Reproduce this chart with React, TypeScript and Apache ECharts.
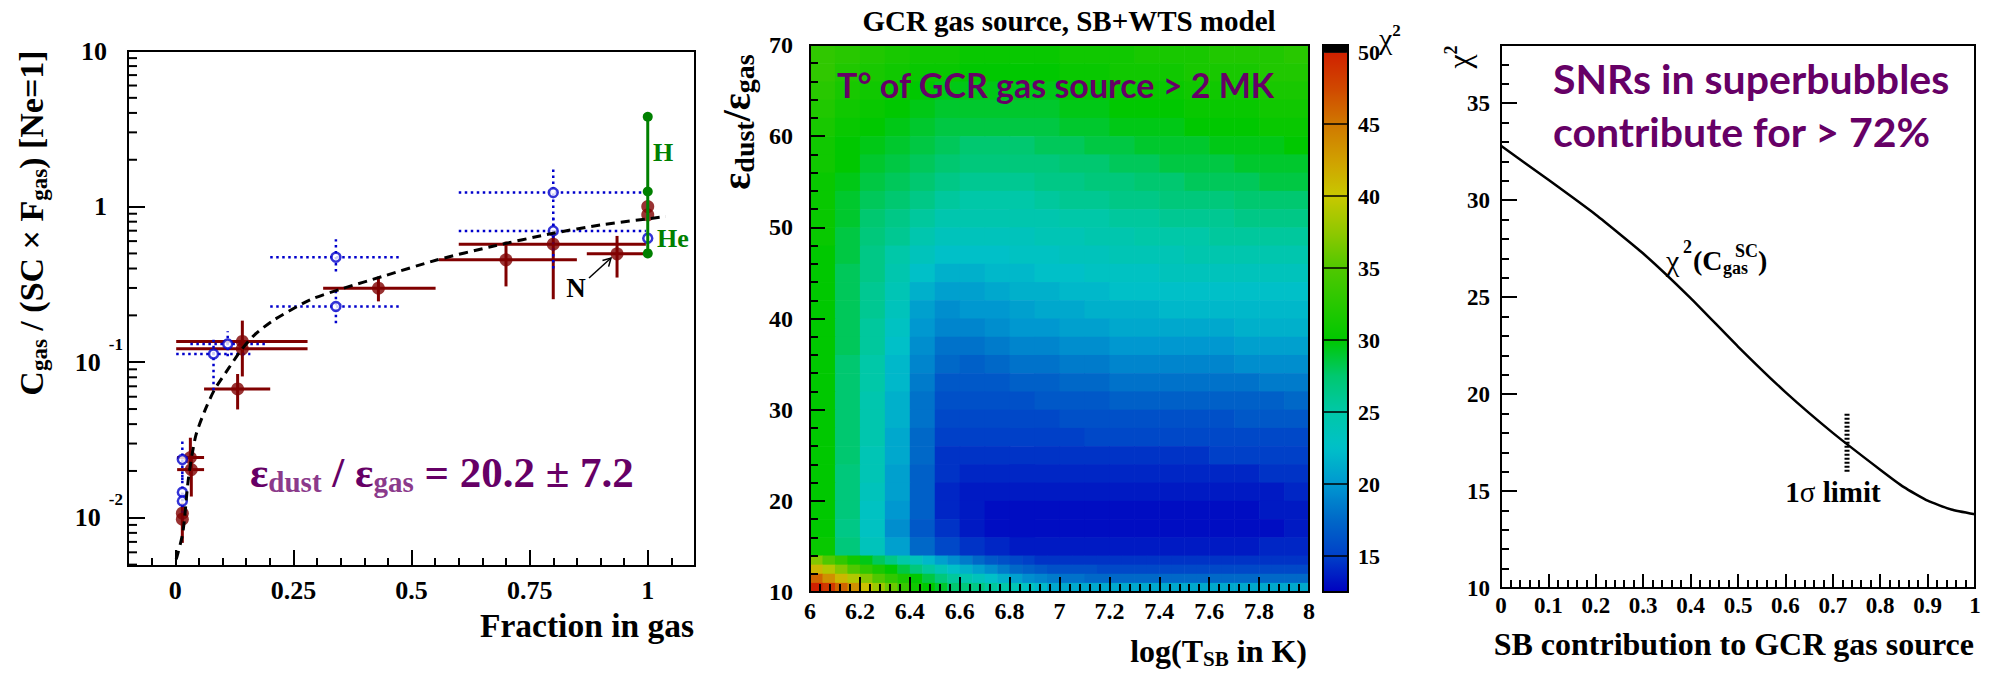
import React, { useEffect, useRef } from 'react';
import * as echarts from 'echarts';

const SERIF = "'Liberation Serif', 'Times New Roman', Times, serif";
const SANS = "Lato, 'Noto Sans', sans-serif";
const PURPLE = '#660066';
const PURPLE_SUB = '#8b3a8b';
const DARKRED = '#800000';
const BLUE = '#0000cc';
const GREEN = '#008000';

// ================= LEFT PANEL DATA =================
const leftXTicks = [0, 0.25, 0.5, 0.75, 1];
const leftYMinorTicks = [0.005, 0.006, 0.007, 0.008, 0.009, 0.02, 0.03, 0.04, 0.05, 0.06, 0.07, 0.08, 0.09,
  0.2, 0.3, 0.4, 0.5, 0.6, 0.7, 0.8, 0.9, 2, 3, 4, 5, 6, 7, 8, 9];

// dust-depleted elements (dark red, filled)
const redX = [0.015, 0.015, 0.032, 0.034, 0.142, 0.142, 0.132, 0.43, 0.70, 0.80, 0.935, 1.0, 1.0];
const redY = [0.0107, 0.0098, 0.0244, 0.0204, 0.136, 0.122, 0.0673, 0.299, 0.455, 0.573, 0.497, 1.0, 0.885];
const redXLo = [0.015, 0.015, 0.004, 0.004, 0.002, 0.002, 0.061, 0.313, 0.558, 0.60, 0.871, 1.0, 1.0];
const redXHi = [0.015, 0.015, 0.061, 0.061, 0.28, 0.28, 0.201, 0.551, 0.85, 0.996, 0.996, 1.0, 1.0];
const redYLo = [0.0069, 0.0098, 0.019, 0.0137, 0.11, 0.081, 0.0497, 0.246, 0.307, 0.254, 0.350, 1.0, 0.885];
const redYHi = [0.0125, 0.0098, 0.0327, 0.026, 0.185, 0.14, 0.084, 0.355, 0.596, 0.708, 0.648, 1.0, 0.885];

// open blue circles, dotted error bars
const blueX = [0.015, 0.015, 0.015, 0.081, 0.111, 0.34, 0.34, 0.80, 0.80, 1.0];
const blueY = [0.0237, 0.0146, 0.0128, 0.113, 0.131, 0.473, 0.228, 1.23, 0.698, 0.626];
const blueXLo = [0.015, 0.015, 0.015, 0.002, 0.032, 0.201, 0.201, 0.60, 0.60, 1.0];
const blueXHi = [0.015, 0.015, 0.015, 0.159, 0.19, 0.479, 0.479, 0.996, 0.996, 1.0];
const blueYLo = [0.0175, 0.0098, 0.0098, 0.066, 0.109, 0.383, 0.178, 0.75, 0.40, 0.626];
const blueYHi = [0.0318, 0.02, 0.016, 0.147, 0.158, 0.617, 0.299, 1.76, 0.85, 0.626];

// H / He (green)
const greenX = [1, 1, 1];
const greenY = [3.78, 1.25, 0.50];

// fitted curve (dashed)
const fitX = [0.002, 0.016, 0.028, 0.043, 0.062, 0.083, 0.111, 0.14, 0.168, 0.209, 0.286, 0.355, 0.439, 0.555, 0.67, 0.80, 0.90, 1.038];
const fitY = [0.0054, 0.0080, 0.018, 0.0333, 0.0483, 0.0665, 0.0895, 0.120, 0.150, 0.187, 0.252, 0.298, 0.356, 0.455, 0.554, 0.674, 0.762, 0.863];

// ================= MIDDLE PANEL DATA (chi2 map) =================
const coarseXEdges = [6.0, 6.1, 6.2, 6.3, 6.4, 6.5, 6.6, 6.7, 6.8, 6.9, 7.0, 7.1, 7.2, 7.3, 7.4, 7.5, 7.6, 7.7, 7.8, 7.9, 8.0];
const coarseYEdges = [70, 68, 66, 64, 62, 60, 58, 56, 54, 52, 50, 48, 46, 44, 42, 40, 38, 36, 34, 32, 30, 28, 26, 24, 22, 20, 18, 16, 14];
const coarseChi2 = [
  [33, 32.5, 32, 31.5, 31, 31, 30.5, 30.5, 30.5, 30.5, 31, 31, 31, 31.5, 31.5, 31.5, 32, 32, 32, 32.5],
  [33, 32, 31.5, 31, 30.5, 30.5, 30, 30, 30, 30, 30.5, 30.5, 31, 31, 31, 31.5, 31.5, 31.5, 32, 32],
  [32.5, 31.5, 31, 30.5, 30, 29.5, 29.5, 29.5, 29.5, 29.5, 30, 30, 30.5, 30.5, 30.5, 31, 31, 31, 31.5, 31.5],
  [32, 31, 30.5, 30, 29.5, 29, 29, 29, 29, 29, 29.5, 29.5, 30, 30, 30, 30.5, 30.5, 30.5, 31, 31],
  [31.5, 30.5, 30, 29.5, 29, 28.5, 28.5, 28.5, 28.5, 28.5, 29, 29, 29.5, 29.5, 29.5, 30, 30, 30, 30.5, 30.5],
  [31, 30, 29.5, 29, 28.5, 28, 27.5, 27.5, 27.5, 28, 28, 28.5, 28.5, 29, 29, 29, 29.5, 29.5, 29.5, 30],
  [31, 30, 29, 28.5, 28, 27.5, 27, 27, 27, 27, 27.5, 27.5, 28, 28, 28.5, 28.5, 28.5, 29, 29, 29],
  [30.5, 29.5, 28.5, 28, 27.5, 26.5, 26, 26, 26, 26.5, 26.5, 27, 27, 27.5, 27.5, 28, 28, 28, 28.5, 28.5],
  [30.5, 29, 28, 27.5, 26.5, 25.5, 25, 25, 25, 25.5, 26, 26, 26.5, 26.5, 27, 27, 27, 27.5, 27.5, 27.5],
  [30.5, 29, 27.5, 26.5, 25.5, 24.5, 24.5, 24.5, 24.5, 24.5, 25, 25, 25.5, 25.5, 26, 26, 26, 26.5, 26.5, 26.5],
  [30.5, 28.5, 27, 26, 24.5, 23.5, 23.5, 23.5, 23.5, 24, 24, 24.5, 24.5, 25, 25, 25, 25.5, 25.5, 25.5, 25.5],
  [30, 28.5, 26.5, 25, 23.5, 22.5, 22.5, 22.5, 23, 23, 23.5, 23.5, 24, 24, 24, 24.5, 24.5, 24.5, 24.5, 24.5],
  [30, 28, 26.5, 24.5, 22.5, 21.5, 21.5, 22, 22, 22.5, 22.5, 23, 23, 23, 23.5, 23.5, 23.5, 23.5, 23.5, 23.5],
  [30, 28, 26, 24, 21.5, 20.5, 20.5, 21, 21.5, 21.5, 22, 22, 22.5, 22.5, 22.5, 22.5, 22.5, 22.5, 22.5, 22.5],
  [30, 28, 26, 23.5, 20.5, 19.5, 20, 20, 20.5, 21, 21, 21.5, 21.5, 21.5, 22, 22, 22, 22, 22, 22],
  [30, 28, 25.5, 23, 20, 19, 19, 19.5, 20, 20, 20.5, 20.5, 21, 21, 21, 21, 21, 21.5, 21.5, 21.5],
  [30, 28, 25.5, 22.5, 19.5, 18, 18, 18.5, 19, 19, 19.5, 19.5, 20, 20, 20, 20, 20, 20.5, 20.5, 20.5],
  [30, 27.5, 25, 22, 19, 17.5, 17, 17.5, 18, 18, 18.5, 18.5, 19, 19, 19, 19, 19, 19.5, 19.5, 19.5],
  [30, 27.5, 25, 22, 18.5, 16.5, 16.5, 16.5, 17, 17, 17.5, 17.5, 18, 18, 18, 18, 18, 18, 18.5, 18.5],
  [30, 27.5, 24.5, 21.5, 18, 16, 16, 16, 16, 16.5, 16.5, 16.5, 17, 17, 17, 17, 17, 17, 17, 17.5],
  [30, 27.5, 24.5, 21.5, 18, 15.5, 15.5, 15.5, 15.5, 15.5, 16, 16, 16, 16, 16, 16, 16, 16.5, 16.5, 16.5],
  [30, 27.5, 24.5, 21, 17.5, 15, 15, 15, 15, 15, 15, 15.5, 15.5, 15.5, 15.5, 15.5, 15.5, 15.5, 15.5, 15.5],
  [30, 27.5, 24, 21, 17.5, 14.5, 14.5, 14.5, 14.5, 14.5, 14.5, 14.5, 14.5, 14.5, 14.5, 14.5, 15, 15, 15, 15],
  [30, 27, 24, 20.5, 17, 14.5, 14, 14, 14, 14, 14, 14, 14, 14, 14, 14, 14, 14, 14.5, 14.5],
  [30, 27, 23.5, 20.5, 17, 14, 13.5, 13.5, 13.5, 13.5, 13.5, 13.5, 13.5, 13.5, 13.5, 13.5, 13.5, 13.5, 13.5, 14],
  [30, 27, 23, 20, 17, 14, 13.5, 13, 13, 13, 13, 13, 13, 13, 13, 13, 13, 13, 13.5, 13.5],
  [30, 26.5, 23, 19.5, 16.5, 14.5, 13.5, 13, 13, 13, 13, 13, 13, 13, 13, 13, 13, 13, 13, 13.5],
  [30.5, 27, 23.5, 20.5, 17.5, 15.5, 14.5, 14, 13.5, 13.5, 13.5, 13.5, 13.5, 13.5, 13.5, 13.5, 13.5, 13.5, 14, 14],
];
const fineXEdges = [6.00, 6.05, 6.10, 6.15, 6.20, 6.25, 6.30, 6.35, 6.40, 6.45, 6.50, 6.55, 6.60, 6.65, 6.70, 6.75, 6.80, 6.85, 6.90, 6.95,
  7.00, 7.05, 7.10, 7.15, 7.20, 7.25, 7.30, 7.35, 7.40, 7.45, 7.50, 7.55, 7.60, 7.65, 7.70, 7.75, 7.80, 7.85, 7.90, 7.95, 8.00];
const fineYEdges = [14, 13, 12, 11, 10];
const fineChi2 = [
  [37, 35, 33, 31, 29.5, 28, 26.5, 25, 23.5, 22, 20.5, 19.5, 18.5, 17.5, 16.5, 16, 15.5, 15, 14.5,
    14.5, 14.5, 14.5, 14.5, 14.5, 14.5, 14.5, 14.5, 14.5, 14.5, 14.5, 14.5, 14.5, 14.5, 14.5, 14.5, 14.5, 14.5, 14.5, 14.5, 14.5],
  [41, 39, 37, 35, 33, 31.5, 30, 28.5, 27, 25.5, 24, 22.5, 21.5, 20.5, 19.5, 18.5, 17.5, 17, 16.5,
    16, 16, 16, 16, 15.5, 15.5, 15.5, 15.5, 15.5, 15.5, 15.5, 15.5, 15.5, 15.5, 15.5, 15.5, 15.5, 15.5, 15.5, 15.5, 15.5],
  [46, 43.5, 41, 39, 37, 35, 33, 31.5, 30, 28.5, 27, 25.5, 24.5, 23.5, 22.5, 21.5, 20.5, 19.5, 19,
    18.5, 18, 18, 17.5, 17.5, 17.5, 17.5, 17.5, 17.5, 17.5, 17.5, 17.5, 17.5, 17.5, 17.5, 17.5, 17.5, 17.5, 17.5, 17.5, 17.5],
  [52, 48.5, 46, 43.5, 40.5, 38, 36, 33.5, 31, 30, 29, 27.5, 27, 26.5, 25.5, 25, 24, 23, 22,
    21, 21, 21, 21, 21, 21, 21, 21, 21, 21, 21, 21, 21, 21, 21, 21, 21, 21, 21, 21, 21],
];
const paletteMin = 12.5;
const paletteMax = 50;
const paletteColors = ['#0000c0', '#0040c8', '#0068c8', '#0098d0', '#00c0c8', '#00c8a8', '#00c870', '#00c800',
  '#28c800', '#50c800', '#90c800', '#c8c800', '#d0a000', '#d07800', '#d04800', '#d02000'];
const colorbarTicks = [15, 20, 25, 30, 35, 40, 45, 50];

// ================= RIGHT PANEL DATA =================
const sbFraction = [0, 0.1, 0.2, 0.3, 0.4, 0.5, 0.6, 0.7, 0.8, 0.85, 0.9, 0.95, 1.0];
const sbChi2 = [32.8, 31.05, 29.25, 27.25, 24.95, 22.45, 20.1, 18.0, 16.1, 15.2, 14.5, 14.05, 13.8];
const sigmaX = [0.73, 0.73];
const sigmaY = [16, 19];

// ================= LAYOUT =================
const GL = { left: 128, top: 51, width: 567, height: 515 };
const GM = { left: 810, top: 45, width: 499, height: 547 };
const GR = { left: 1501, top: 45, width: 474, height: 543 };
const GC = { left: 1323, top: 45, width: 25, height: 547 };
const CB_MIN = 12.5;
const CB_MAX = 50.5;

const tickLine = { color: '#000', width: 2 };
const lab = (size: number) => ({ fontFamily: SERIF, fontWeight: 'bold' as const, fontSize: size, color: '#000' });

function buildOption(): any {
  const heat: number[][] = [];
  coarseChi2.forEach((row, r) => {
    row.forEach((v, c) => {
      heat.push([coarseXEdges[c], coarseXEdges[c + 1], coarseYEdges[r + 1], coarseYEdges[r], v]);
    });
  });
  fineChi2.forEach((row, r) => {
    row.forEach((v, c) => {
      heat.push([fineXEdges[c], fineXEdges[c + 1], fineYEdges[r + 1], fineYEdges[r], v]);
    });
  });

  const redData = redX.map((x, i) => [x, redY[i], redXLo[i], redXHi[i], redYLo[i], redYHi[i]]);
  const blueData = blueX.map((x, i) => [x, blueY[i], blueXLo[i], blueXHi[i], blueYLo[i], blueYHi[i]]);

  const errRender = (color: string, width: number, dash: number[] | null) => (params: any, api: any) => {
    const x = api.value(0), y = api.value(1);
    const a = api.coord([api.value(2), y]);
    const b = api.coord([api.value(3), y]);
    const c = api.coord([x, api.value(4)]);
    const d = api.coord([x, api.value(5)]);
    const st: any = { stroke: color, lineWidth: width };
    if (dash) st.lineDash = dash;
    return {
      type: 'group',
      children: [
        { type: 'line', shape: { x1: a[0], y1: a[1], x2: b[0], y2: b[1] }, style: st },
        { type: 'line', shape: { x1: c[0], y1: c[1], x2: d[0], y2: d[1] }, style: st },
      ],
    };
  };

  const leftMin = -0.1;
  const logLabelFmt = (v: number) => {
    const lg = Math.log10(v);
    const e = Math.round(lg);
    if (Math.abs(lg - e) > 1e-6) return '';
    if (e === 1) return '{b|10}{pad|}';
    if (e === 0) return '{b|1}{pad|}';
    return '{b|10}{sp|' + e + '}';
  };

  const T = (x: number, y: number, text: string, o: any = {}) => ({
    type: 'text', x, y, z: 100, silent: true, rotation: o.rotation || 0,
    style: {
      text,
      fill: o.fill || '#000',
      fontFamily: o.fontFamily || SERIF,
      fontWeight: o.fontWeight || 'bold',
      fontSize: o.fontSize || 24,
      align: o.align || 'left',
      verticalAlign: o.verticalAlign || 'middle',
      rich: o.rich,
    },
  });

  const richSerif = (size: number, extra: any = {}) => ({ fontFamily: SERIF, fontWeight: 'bold', fontSize: size, fill: '#000', ...extra });

  const graphic: any[] = [
    // ---------- left panel ----------
    T(31.5, 223, '{m|C}{s|gas}{m| / (SC × F}{s|gas}{m|) [Ne=1]}', {
      rotation: Math.PI / 2, align: 'center',
      rich: { m: richSerif(34, { lineHeight: 38 }), s: richSerif(23, { lineHeight: 12, verticalAlign: 'bottom' }) },
    }),
    T(694, 625, 'Fraction in gas', { fontSize: 33.5, align: 'right' }),
    T(250, 472, '{m|ε}{s|dust}{m| / ε}{s|gas}{m| = 20.2 ± 7.2}', {
      rich: {
        m: richSerif(43, { lineHeight: 48, fill: PURPLE }),
        s: richSerif(29, { lineHeight: 16, verticalAlign: 'bottom', fill: PURPLE_SUB }),
      },
    }),
    T(576, 288, 'N', { fontSize: 27, align: 'center' }),
    { type: 'line', z: 100, silent: true, shape: { x1: 589, y1: 278, x2: 611, y2: 258 }, style: { stroke: '#000', lineWidth: 1.5 } },
    { type: 'polyline', z: 100, silent: true, shape: { points: [[602.5, 260.5], [611, 258], [608.6, 266.6]] }, style: { stroke: '#000', lineWidth: 1.5, fill: null } },
    T(653, 152, 'H', { fontSize: 26, fill: GREEN }),
    T(657, 238.5, 'He', { fontSize: 26, fill: GREEN }),

    // ---------- middle panel ----------
    T(1069, 21, 'GCR gas source, SB+WTS model', { fontSize: 29, align: 'center' }),
    T(1307, 651, '{m|log(T}{s|SB}{m| in K)}', {
      align: 'right',
      rich: { m: richSerif(32, { lineHeight: 36 }), s: richSerif(21, { lineHeight: 12, verticalAlign: 'bottom' }) },
    }),
    T(736, 122, '{m|ε}{s|dust}{m|/ε}{s|gas}', {
      rotation: Math.PI / 2, align: 'center',
      rich: { m: richSerif(40, { lineHeight: 44 }), s: richSerif(28, { lineHeight: 14, verticalAlign: 'bottom' }) },
    }),
    T(837, 84, 'T° of GCR gas source > 2 MK', { fontSize: 34, fontFamily: SANS, fill: PURPLE }),
    { type: 'rect', z: 100, silent: true, shape: { x: GM.left, y: GM.top, width: GM.width, height: GM.height }, style: { fill: null, stroke: '#000', lineWidth: 2 } },
    { type: 'rect', z: 99, silent: true, shape: { x: GC.left, y: GC.top, width: GC.width, height: (CB_MAX - paletteMax) / (CB_MAX - CB_MIN) * GC.height }, style: { fill: '#000' } },
    { type: 'rect', z: 100, silent: true, shape: { x: GC.left, y: GC.top, width: GC.width, height: GC.height }, style: { fill: null, stroke: '#000', lineWidth: 2 } },
    T(1379, 38, '{c|χ}{s|2}', {
      rich: { c: { fontFamily: SERIF, fontSize: 30, fill: '#000', lineHeight: 32 }, s: richSerif(17, { lineHeight: 12, verticalAlign: 'top' }) },
    }),

    // ---------- right panel ----------
    T(1459, 57, '{c|χ}{s|2}', {
      rotation: Math.PI / 2, align: 'center',
      rich: { c: { fontFamily: SERIF, fontSize: 32, fill: '#000', lineHeight: 34 }, s: richSerif(18, { lineHeight: 12, verticalAlign: 'top' }) },
    }),
    T(1974, 644, 'SB contribution to GCR gas source', { fontSize: 32, align: 'right' }),
    T(1666, 260, 'χ', { fontSize: 30, fontWeight: 'normal' }),
    T(1683, 247, '2', { fontSize: 18 }),
    T(1693, 260.5, '(C', { fontSize: 28 }),
    T(1735, 251, 'SC', { fontSize: 18 }),
    T(1723, 268, 'gas', { fontSize: 18 }),
    T(1758, 260.5, ')', { fontSize: 28 }),
    T(1833, 492, '{a|1}{g|σ}{a| limit}', {
      align: 'center',
      rich: { a: richSerif(29), g: { fontFamily: SERIF, fontSize: 29, fill: '#000' } },
    }),
    T(1553, 78, 'SNRs in superbubbles', { fontSize: 41, fontFamily: SANS, fill: PURPLE }),
    T(1553, 131, 'contribute for > 72%', { fontSize: 41, fontFamily: SANS, fill: PURPLE }),
  ];

  const noZero = { onZero: false };

  return {
    animation: false,
    backgroundColor: '#fff',
    grid: [
      { ...GL, show: true, borderColor: '#000', borderWidth: 2, backgroundColor: 'transparent' },
      { ...GM, show: false },
      { ...GR, show: true, borderColor: '#000', borderWidth: 2, backgroundColor: 'transparent' },
      { ...GC, show: false },
    ],
    xAxis: [
      {
        gridIndex: 0, type: 'value', position: 'bottom', min: leftMin, max: 1.1,
        axisLine: { show: true, ...noZero, lineStyle: tickLine },
        axisTick: { show: true, inside: true, length: 16, customValues: leftXTicks, lineStyle: tickLine },
        axisLabel: { show: true, customValues: leftXTicks, margin: 24, verticalAlign: 'middle', ...lab(26), formatter: (v: number) => String(v) },
        splitLine: { show: false },
      },
      {
        gridIndex: 0, type: 'value', position: 'bottom', min: leftMin, max: 1.1, interval: 0.05,
        axisLine: { show: false, ...noZero }, axisTick: { show: true, inside: true, length: 8, lineStyle: tickLine },
        axisLabel: { show: false }, splitLine: { show: false },
      },
      {
        gridIndex: 1, type: 'value', position: 'bottom', min: 6, max: 8, interval: 0.2, z: 10,
        axisLine: { show: false, ...noZero },
        axisTick: { show: true, inside: true, length: 15, lineStyle: tickLine },
        axisLabel: { margin: 19, verticalAlign: 'middle', ...lab(24), formatter: (v: number) => String(+v.toFixed(1)) },
        splitLine: { show: false },
      },
      {
        gridIndex: 1, type: 'value', position: 'bottom', min: 6, max: 8, interval: 0.04, z: 10,
        axisLine: { show: false, ...noZero }, axisTick: { show: true, inside: true, length: 8, lineStyle: tickLine },
        axisLabel: { show: false }, splitLine: { show: false },
      },
      {
        gridIndex: 2, type: 'value', position: 'bottom', min: 0, max: 1, interval: 0.1,
        axisLine: { show: true, ...noZero, lineStyle: tickLine },
        axisTick: { show: true, inside: true, length: 14, lineStyle: tickLine },
        axisLabel: { margin: 17, verticalAlign: 'middle', ...lab(23), formatter: (v: number) => String(+v.toFixed(1)) },
        splitLine: { show: false },
      },
      {
        gridIndex: 2, type: 'value', position: 'bottom', min: 0, max: 1, interval: 0.02,
        axisLine: { show: false, ...noZero }, axisTick: { show: true, inside: true, length: 8, lineStyle: tickLine },
        axisLabel: { show: false }, splitLine: { show: false },
      },
      { gridIndex: 3, type: 'value', min: 0, max: 1, show: false },
    ],
    yAxis: [
      {
        gridIndex: 0, type: 'log', logBase: 10, min: 0.0049, max: 10, position: 'left',
        axisLine: { show: true, ...noZero, lineStyle: tickLine },
        axisTick: { show: true, inside: true, length: 17, lineStyle: tickLine },
        minorTick: { show: false },
        axisLabel: {
          margin: 5, formatter: logLabelFmt, showMinLabel: false,
          rich: {
            b: { ...lab(26), lineHeight: 53 },
            pad: { width: 16 },
            sp: { ...lab(17), lineHeight: 17, verticalAlign: 'top', padding: [0, 0, 0, 8] },
          },
        },
        splitLine: { show: false },
      },
      {
        gridIndex: 1, type: 'value', min: 10, max: 70, interval: 10, z: 10, position: 'left',
        axisLine: { show: false, ...noZero },
        axisTick: { show: true, inside: true, length: 15, lineStyle: tickLine },
        axisLabel: { margin: 17, ...lab(24) },
        splitLine: { show: false },
      },
      {
        gridIndex: 1, type: 'value', min: 10, max: 70, interval: 2, z: 10, position: 'left',
        axisLine: { show: false, ...noZero }, axisTick: { show: true, inside: true, length: 8, lineStyle: tickLine },
        axisLabel: { show: false }, splitLine: { show: false },
      },
      {
        gridIndex: 2, type: 'value', min: 10, max: 38, interval: 5, position: 'left',
        axisLine: { show: true, ...noZero, lineStyle: tickLine },
        axisTick: { show: true, inside: true, length: 16, lineStyle: tickLine },
        axisLabel: { margin: 11, ...lab(23), showMaxLabel: false, formatter: (v: number) => (v % 5 === 0 ? String(v) : '') },
        splitLine: { show: false },
      },
      {
        gridIndex: 2, type: 'value', min: 10, max: 38, interval: 1, position: 'left',
        axisLine: { show: false, ...noZero }, axisTick: { show: true, inside: true, length: 8, lineStyle: tickLine },
        axisLabel: { show: false }, splitLine: { show: false },
      },
      {
        gridIndex: 3, type: 'value', min: CB_MIN, max: CB_MAX, position: 'right', z: 10,
        axisLine: { show: false, ...noZero },
        axisTick: { show: true, inside: true, length: 25, customValues: colorbarTicks, lineStyle: { color: '#000', width: 1.5 } },
        axisLabel: { customValues: colorbarTicks, margin: 10, ...lab(22) },
        splitLine: { show: false },
      },
    ],
    visualMap: [{
      type: 'continuous', min: paletteMin, max: paletteMax, seriesIndex: 7, dimension: 4,
      orient: 'vertical', left: GC.left,
      top: GC.top + (CB_MAX - paletteMax) / (CB_MAX - CB_MIN) * GC.height,
      itemWidth: GC.width, itemHeight: (paletteMax - paletteMin) / (CB_MAX - CB_MIN) * GC.height,
      padding: 0, calculable: false, hoverLink: false, text: null,
      inRange: { color: paletteColors }, outOfRange: { color: '#000' },
    }],
    graphic,
    series: [
      {
        type: 'custom', xAxisIndex: 0, yAxisIndex: 0, silent: true,
        data: leftYMinorTicks.map((v) => [leftMin, v]),
        renderItem: (params: any, api: any) => {
          const p = api.coord([api.value(0), api.value(1)]);
          return { type: 'line', shape: { x1: p[0], y1: p[1], x2: p[0] + 9, y2: p[1] }, style: { stroke: '#000', lineWidth: 2 } };
        },
      },
      { type: 'custom', xAxisIndex: 0, yAxisIndex: 0, silent: true, data: redData, encode: { x: 0, y: 1 }, renderItem: errRender(DARKRED, 3, null) },
      { type: 'scatter', xAxisIndex: 0, yAxisIndex: 0, silent: true, symbol: 'circle', symbolSize: 13, itemStyle: { color: DARKRED }, data: redX.map((x, i) => [x, redY[i]]) },
      { type: 'custom', xAxisIndex: 0, yAxisIndex: 0, silent: true, data: blueData, encode: { x: 0, y: 1 }, renderItem: errRender(BLUE, 2.5, [2.5, 3.5]) },
      { type: 'scatter', xAxisIndex: 0, yAxisIndex: 0, silent: true, symbol: 'circle', symbolSize: 9, itemStyle: { color: '#fff', borderColor: BLUE, borderWidth: 2.5 }, data: blueX.map((x, i) => [x, blueY[i]]) },
      { type: 'line', xAxisIndex: 0, yAxisIndex: 0, silent: true, symbol: 'none', smooth: 0.25, lineStyle: { color: '#000', width: 3, type: [9, 6] }, data: fitX.map((x, i) => [x, fitY[i]]) },
      { type: 'line', xAxisIndex: 0, yAxisIndex: 0, silent: true, symbol: 'circle', symbolSize: 10, itemStyle: { color: GREEN }, lineStyle: { color: GREEN, width: 3 }, data: greenX.map((x, i) => [x, greenY[i]]) },
      {
        type: 'custom', xAxisIndex: 2, yAxisIndex: 1, silent: true, data: heat, encode: { x: [0, 1], y: [2, 3] },
        renderItem: (params: any, api: any) => {
          const p0 = api.coord([api.value(0), api.value(3)]);
          const p1 = api.coord([api.value(1), api.value(2)]);
          return { type: 'rect', shape: { x: p0[0], y: p0[1], width: p1[0] - p0[0] + 0.6, height: p1[1] - p0[1] + 0.6 }, style: { fill: api.visual('color') } };
        },
      },
      { type: 'line', xAxisIndex: 4, yAxisIndex: 3, silent: true, symbol: 'none', smooth: 0.15, lineStyle: { color: '#000', width: 2.5 }, data: sbFraction.map((x, i) => [x, sbChi2[i]]) },
      { type: 'line', xAxisIndex: 4, yAxisIndex: 3, silent: true, symbol: 'none', lineStyle: { color: '#000', width: 5, type: [2, 2] }, data: sigmaX.map((x, i) => [x, sigmaY[i]]) },
    ],
  };
}

export default function App() {
  const ref = useRef<HTMLDivElement>(null);
  useEffect(() => {
    document.body.style.margin = '0';
    const chart = echarts.init(ref.current!, null, { renderer: 'svg' });
    chart.setOption(buildOption());
    return () => chart.dispose();
  }, []);
  return <div ref={ref} style={{ position: 'absolute', left: 0, top: 0, width: 1993, height: 675, background: '#fff' }} />;
}
